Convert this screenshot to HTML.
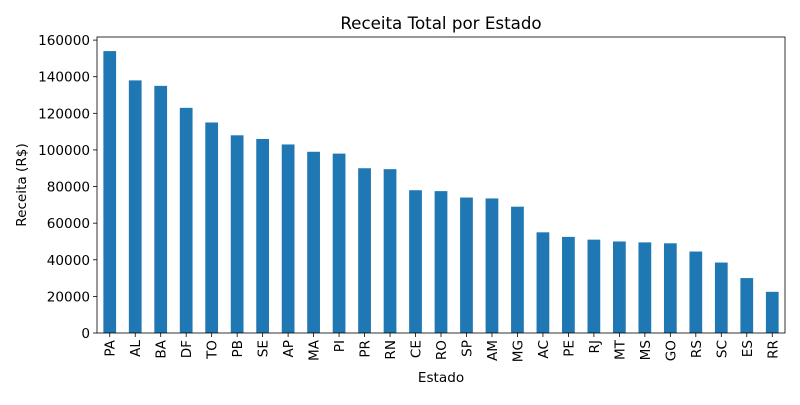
<!DOCTYPE html>
<html><head><meta charset="utf-8"><style>
body{margin:0;background:#fff;}
svg{font-family:"DejaVu Sans","Liberation Sans",sans-serif;}
</style></head><body>
<svg id="chart" width="800" height="400"></svg>
<script>
const categories=["PA","AL","BA","DF","TO","PB","SE","AP","MA","PI","PR","RN","CE","RO","SP","AM","MG","AC","PE","RJ","MT","MS","GO","RS","SC","ES","RR"];
const values=[154000,138000,135000,123000,115000,108000,106000,103000,99000,98000,90000,89500,78000,77500,74000,73500,69000,55000,52500,51000,50000,49500,49000,44500,38500,30000,22500];
const yTicks=[0,20000,40000,60000,80000,100000,120000,140000,160000];
const NS="http://www.w3.org/2000/svg";
const svg=document.getElementById('chart');
const L=97,R=785,T=37,B=333,yMax=161700;
const y=v=>B-(v/yMax)*(B-T);
const step=(R-L)/categories.length;
const x=i=>L+step*(i+0.5);
function mk(t,a,txt){const e=document.createElementNS(NS,t);for(const k in a)e.setAttribute(k,a[k]);if(txt!==undefined)e.textContent=txt;svg.appendChild(e);return e;}
categories.forEach((c,i)=>{
 const b=mk('rect',{x:x(i)-step/4,y:y(values[i]),width:step/2,height:B-y(values[i]),fill:'#1f77b4'});
 
 
 const t=mk('line',{x1:x(i),x2:x(i),y1:B,y2:B+4,stroke:'#000','stroke-width':0.8});
 
 
 const l=mk('text',{x:0,y:0,transform:`translate(${x(i)+5},${B+7}) rotate(-90)`,'text-anchor':'end','font-size':13.6},c);
 
 
});
yTicks.forEach(v=>{
 const t=mk('line',{x1:L-4,x2:L,y1:y(v),y2:y(v),stroke:'#000','stroke-width':0.8});
 
 
 const l=mk('text',{x:L-7,y:y(v)+5,'text-anchor':'end','font-size':13.6},String(v));
 
 
});
const f=mk('rect',{x:L,y:T,width:R-L,height:B-T,fill:'none',stroke:'#000','stroke-width':0.8});


const ti=mk('text',{x:(L+R)/2,y:29,'text-anchor':'middle','font-size':16.7},'Receita Total por Estado');


const xt=mk('text',{x:(L+R)/2,y:382,'text-anchor':'middle','font-size':13.6},'Estado');


const yt=mk('text',{x:0,y:0,transform:`translate(26,${(T+B)/2}) rotate(-90)`,'text-anchor':'middle','font-size':13.6},'Receita (R$)');


</script>
</body></html>
